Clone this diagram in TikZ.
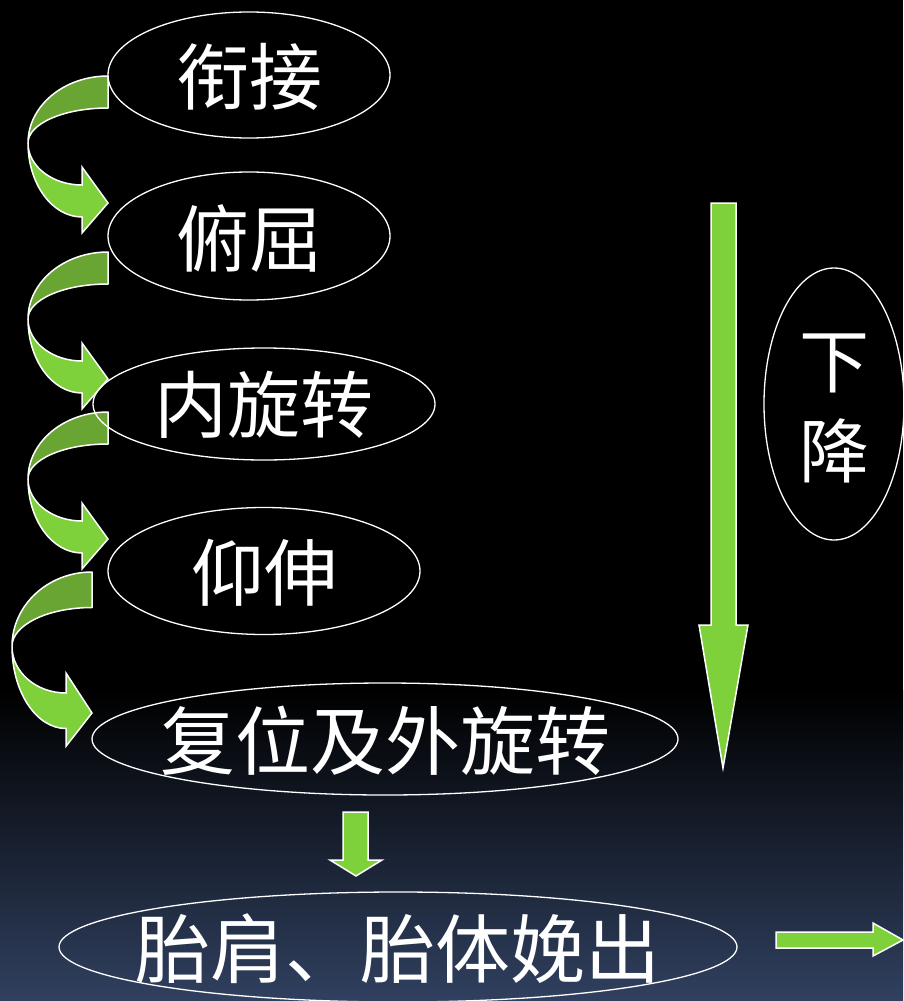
\documentclass[tikz,border=0pt]{standalone}
\usepackage{fontspec}
\newfontfamily\cjk{Noto Sans CJK SC}
\usetikzlibrary{shapes.geometric}
\definecolor{lightg}{HTML}{7FD13B}
\definecolor{darkg}{HTML}{69A533}
\definecolor{bgbot}{HTML}{30405F}
\tikzset{
  oval/.style={ellipse, draw=white, line width=1.3pt, inner sep=0pt},
  label72/.style={text=white, inner sep=0pt, font=\cjk\fontsize{73pt}{80pt}\selectfont},
  blockarrow/.style={fill=lightg, draw=white, line width=1.5pt, line join=miter},
  darkband/.style={fill=darkg, draw=white, line width=1.5pt, line join=round},
}
\newcommand{\cvarrow}[3]{%
  \begin{scope}[shift={(#1,#2)}, yscale=#3]
    \path[darkband] (0,0) arc[start angle=-90,end angle=-180,x radius=80,y radius=67]
       arc[start angle=180,end angle=270,x radius=80,y radius=35] -- cycle;
    \path[blockarrow] (-80,67) arc[start angle=180,end angle=90,x radius=54,y radius=74]
       -- (-26,157) -- (0,127) -- (-26,91) -- (-26,109)
       arc[start angle=90,end angle=180,x radius=54,y radius=42] -- cycle;
  \end{scope}}
\begin{document}
\begin{tikzpicture}[x=1pt,y=-1pt]
\useasboundingbox (0,0) rectangle (903,1001);
\fill[black] (0,0) rectangle (903,690);
\shade[top color=black, bottom color=bgbot] (0,690) rectangle (903,1001);

% curved arrows
\cvarrow{108}{76}{1}
\cvarrow{108}{252}{1}
\cvarrow{108}{412}{1}
\cvarrow{92}{572}{1.11}

% ovals
\node[oval, minimum width=282pt, minimum height=126pt] (e1) at (249,75) {};
\node[oval, minimum width=282pt, minimum height=128pt] (e2) at (249,236) {};
\node[oval, minimum width=342pt, minimum height=112pt] (e3) at (264,404) {};
\node[oval, minimum width=312pt, minimum height=127pt] (e4) at (264,571) {};
\node[oval, minimum width=586pt, minimum height=112pt] (e5) at (385,739) {};
\node[oval, minimum width=678pt, minimum height=110pt] (e6) at (398,947) {};
\node[oval, minimum width=140pt, minimum height=272pt] (e7) at (834,404) {};

\node[label72] (t1) at ([yshift=-2pt]e1) {衔接};
\node[label72] (t2) at ([yshift=-2pt]e2) {俯屈};
\node[label72] (t3) at ([yshift=-1pt]e3) {内旋转};
\node[label72] (t4) at ([yshift=-2pt]e4) {仰伸};
\node[label72, font=\cjk\fontsize{75pt}{80pt}\selectfont] (t5) at ([yshift=-2pt]e5) {复位及外旋转};
\node[label72, font=\cjk\fontsize{75pt}{80pt}\selectfont] (t6) at ([yshift=-2pt]e6) {胎肩、胎体娩出};
\node[label72, font=\cjk\fontsize{70pt}{90pt}\selectfont, align=center] (t7) at ([yshift=-4pt]e7) {下\\降};

% straight arrows
\path[blockarrow] (711,203) -- (736,203) -- (736,625) -- (748,625) -- (723,768) -- (699,625) -- (711,625) -- cycle;
\path[blockarrow] (343,812) -- (368,812) -- (368,860) -- (382,860) -- (356,876) -- (330,860) -- (343,860) -- cycle;
\path[blockarrow] (776,932) -- (873,932) -- (873,923) -- (903,940) -- (873,956) -- (873,948) -- (776,948) -- cycle;
\end{tikzpicture}
\end{document}
